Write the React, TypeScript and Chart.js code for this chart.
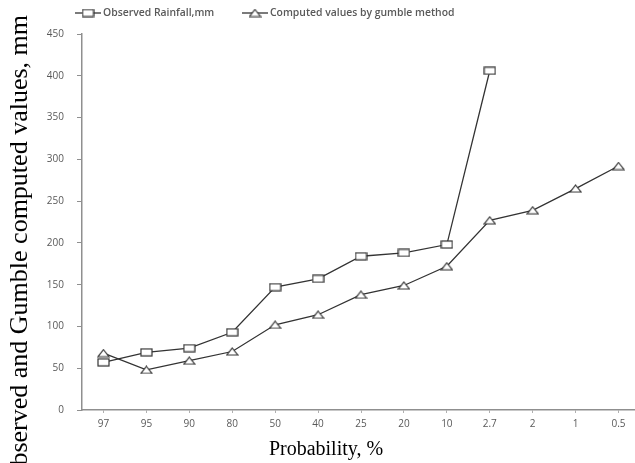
import React, { useEffect, useRef } from "react";
import { Chart, registerables } from "chart.js";

Chart.register(...registerables);

// Exceedance probabilities (%) along the x axis
const probabilities = ["97", "95", "90", "80", "50", "40", "25", "20", "10", "2.7", "2", "1", "0.5"];
// Observed rainfall, mm (no observations beyond 2.7 %)
const observedRainfall = [57, 69, 74, 93, 147, 157, 184, 188, 198, 406, null, null, null];
// Values computed with the Gumbel method, mm
const gumbelComputed = [68, 48, 59, 70, 102, 114, 138, 149, 172, 227, 239, 265, 292];
const yTicks = [0, 50, 100, 150, 200, 250, 300, 350, 400, 450];

const observedLabel = "Observed Rainfall,mm";
const computedLabel = "Computed values by gumble method";
const xTitle = "Probability, %";
const yTitle = "Observed and Gumble computed values, mm";

const LINE = "#333333";
const AXIS = "#8f8f8f";
const TEXT = "#595959";
const TICK_FONT = "'Open Sans', sans-serif";
const SERIF = "'Liberation Serif', 'Times New Roman', serif";

function makeRect(w: number, h: number) {
  const c = document.createElement("canvas");
  c.width = w + 2;
  c.height = h + 2;
  const g = c.getContext("2d")!;
  g.fillStyle = "#ffffff";
  g.strokeStyle = LINE;
  g.lineWidth = 1.2;
  g.fillRect(1, 1, w, h);
  g.strokeRect(1, 1, w, h);
  return c;
}

function makeTriangle(w: number, h: number) {
  const c = document.createElement("canvas");
  c.width = w + 2;
  c.height = h + 2;
  const g = c.getContext("2d")!;
  g.fillStyle = "#ffffff";
  g.strokeStyle = LINE;
  g.lineWidth = 1.2;
  g.beginPath();
  g.moveTo(1 + w / 2, 1);
  g.lineTo(1 + w, 1 + h);
  g.lineTo(1, 1 + h);
  g.closePath();
  g.fill();
  g.stroke();
  return c;
}

export default function App() {
  const canvasRef = useRef<HTMLCanvasElement | null>(null);

  useEffect(() => {
    document.body.style.overflow = "hidden";
    const canvas = canvasRef.current!;
    const squareMark = makeRect(11, 7);
    const triangleMark = makeTriangle(11, 7);

    // Legend and axis titles
    const decorations = {
      id: "decorations",
      afterDraw(chart: any) {
        const ctx = chart.ctx as CanvasRenderingContext2D;
        ctx.save();

        // legend
        const drawEntry = (x: number, mark: HTMLCanvasElement, text: string) => {
          const y = 13;
          ctx.strokeStyle = LINE;
          ctx.lineWidth = 1.3;
          ctx.beginPath();
          ctx.moveTo(x, y);
          ctx.lineTo(x + 26, y);
          ctx.stroke();
          ctx.drawImage(mark, x + 13 - mark.width / 2, y - mark.height / 2);
          ctx.fillStyle = TEXT;
          ctx.font = `600 10.4px ${TICK_FONT}`;
          ctx.textAlign = "left";
          ctx.textBaseline = "middle";
          ctx.fillText(text, x + 28, y);
        };
        drawEntry(75, squareMark, observedLabel);
        drawEntry(242, triangleMark, computedLabel);

        // x title
        ctx.fillStyle = "#000000";
        ctx.font = `20px ${SERIF}`;
        ctx.textAlign = "center";
        ctx.textBaseline = "alphabetic";
        ctx.fillText(xTitle, 326, 455);

        // y title, anchored by its end near the top edge
        ctx.font = `26px ${SERIF}`;
        ctx.translate(27, 15);
        ctx.rotate(-Math.PI / 2);
        ctx.textAlign = "left";
        ctx.textBaseline = "alphabetic";
        const w = ctx.measureText(yTitle).width;
        ctx.fillText(yTitle, -w, 0);
        ctx.restore();
      },
    };

    const chart = new Chart(canvas, {
      type: "line",
      data: {
        labels: probabilities,
        datasets: [
          {
            label: observedLabel,
            data: observedRainfall,
            borderColor: LINE,
            borderWidth: 1.3,
            pointStyle: squareMark as any,
            pointRadius: 5,
            pointHoverRadius: 5,
            spanGaps: false,
            tension: 0,
          },
          {
            label: computedLabel,
            data: gumbelComputed,
            borderColor: LINE,
            borderWidth: 1.3,
            pointStyle: triangleMark as any,
            pointRadius: 5,
            pointHoverRadius: 5,
            tension: 0,
          },
        ],
      },
      options: {
        responsive: false,
        animation: false,
        devicePixelRatio: 1,
        layout: { padding: { top: 34, right: 20, bottom: 0, left: 0 } },
        plugins: {
          legend: { display: false },
          tooltip: { enabled: false },
        },
        scales: {
          x: {
            type: "category",
            offset: true,
            grid: {
              display: true,
              offset: false,
              drawOnChartArea: false,
              drawTicks: true,
              tickLength: 3,
              color: "#b0b0b0",
            },
            border: { display: true, color: AXIS, width: 1.5 },
            ticks: {
              color: TEXT,
              font: { family: TICK_FONT, size: 10 },
              padding: 5,
              maxRotation: 0,
              autoSkip: false,
            },
            afterFit(scale: any) {
              scale.height = 463 - 410;
            },
          },
          y: {
            min: 0,
            max: 450,
            afterBuildTicks(scale: any) {
              scale.ticks = yTicks.map((v) => ({ value: v }));
            },
            grid: {
              display: true,
              drawOnChartArea: false,
              drawTicks: true,
              tickLength: 5,
              color: AXIS,
            },
            border: { display: true, color: AXIS, width: 1.5 },
            ticks: {
              color: TEXT,
              font: { family: TICK_FONT, size: 10 },
              padding: 13,
            },
            afterFit(scale: any) {
              scale.width = 82;
            },
          },
        },
      },
      plugins: [decorations],
    });

    return () => chart.destroy();
  }, []);

  return (
    <div style={{ position: "fixed", left: 0, top: 0, width: 660, height: 463, background: "#ffffff" }}>
      <canvas ref={canvasRef} width={660} height={463} style={{ width: 660, height: 463, display: "block" }} />
    </div>
  );
}
